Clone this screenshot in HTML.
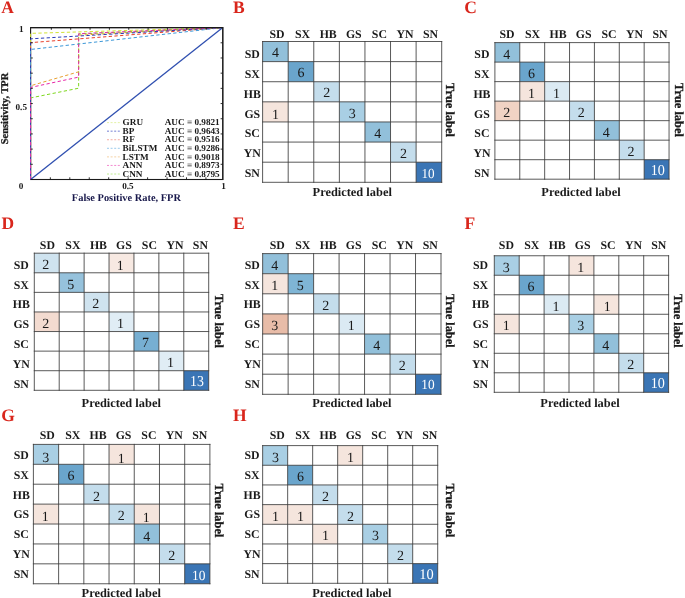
<!DOCTYPE html>
<html><head><meta charset="utf-8"><title>Figure</title>
<style>html,body{margin:0;padding:0;background:#fff;}body{width:685px;height:598px;overflow:hidden;font-family:"Liberation Serif", serif;}svg{display:block;text-rendering:geometricPrecision;will-change:transform;font-family:"Liberation Serif", serif;}</style></head><body>
<svg width="685" height="598" viewBox="0 0 685 598">
<rect width="685" height="598" fill="#ffffff"/>
<g>
<text x="1.2" y="12.8" font-size="17.5" font-weight="bold" fill="#d9261c">A</text>
<rect x="30.6" y="27.6" width="192.20000000000002" height="151.9" fill="none" stroke="#1a1a1a" stroke-width="1.1"/>
<path d="M30.60 179.50L30.60 33.37L222.80 27.60" stroke="#d2e234" stroke-width="1.0" fill="none" stroke-dasharray="3.3 2.4" stroke-dashoffset="0.0"/>
<path d="M30.60 179.50L30.60 42.64L222.80 27.60" stroke="#e8402a" stroke-width="1.0" fill="none" stroke-dasharray="3.3 2.4" stroke-dashoffset="1.4"/>
<path d="M30.60 179.50L30.60 85.78L78.65 71.80L78.65 35.19L222.80 27.60" stroke="#e8a030" stroke-width="1.0" fill="none" stroke-dasharray="3.3 2.4" stroke-dashoffset="1.4"/>
<path d="M30.60 179.50L30.60 97.93L78.65 88.21L78.65 33.98L222.80 27.60" stroke="#7ed81e" stroke-width="1.0" fill="none" stroke-dasharray="3.3 2.4" stroke-dashoffset="4.3"/>
<path d="M30.60 179.50L30.60 38.84L222.80 27.60" stroke="#2a3cb8" stroke-width="1.0" fill="none" stroke-dasharray="3.3 2.4" stroke-dashoffset="2.9"/>
<path d="M30.60 179.50L30.60 49.47L222.80 27.60" stroke="#3c98d8" stroke-width="1.0" fill="none" stroke-dasharray="3.3 2.4" stroke-dashoffset="0.0"/>
<path d="M30.60 179.50L30.60 87.45L78.65 77.12L78.65 33.68L222.80 27.60" stroke="#e828a8" stroke-width="1.0" fill="none" stroke-dasharray="3.3 2.4" stroke-dashoffset="0.0"/>
<path d="M30.60 179.50L222.80 27.60" stroke="#2f4fb0" stroke-width="1.3" fill="none"/>
<path d="M30.6 27.6H222.8V179.5H30.6" fill="none" stroke="#1a1a1a" stroke-width="1.1"/>
<path d="M50.35 179.5v-2.2M51.35 27.6v2.2M30.6 42.79h2.2M222.8 42.79h-2.2M69.80 179.5v-2.2M70.70 27.6v2.2M30.6 57.98h2.2M222.8 57.98h-2.2M89.25 179.5v-2.2M90.05 27.6v2.2M30.6 73.17h2.2M222.8 73.17h-2.2M108.70 179.5v-2.2M109.40 27.6v2.2M30.6 88.36h2.2M222.8 88.36h-2.2M128.15 179.5v-2.2M128.75 27.6v2.2M30.6 103.55h2.2M222.8 103.55h-2.2M147.60 179.5v-2.2M148.10 27.6v2.2M30.6 118.74h2.2M222.8 118.74h-2.2M167.05 179.5v-2.2M167.45 27.6v2.2M30.6 133.93h2.2M222.8 133.93h-2.2M186.50 179.5v-2.2M186.80 27.6v2.2M30.6 149.12h2.2M222.8 149.12h-2.2M205.95 179.5v-2.2M206.15 27.6v2.2M30.6 164.31h2.2M222.8 164.31h-2.2" stroke="#1a1a1a" stroke-width="0.9" fill="none"/>
<text x="21" y="188.9" font-size="9.2" font-weight="bold" text-anchor="middle" fill="#1a1a1a">0</text>
<text x="127.90" y="188.9" font-size="9.2" font-weight="bold" text-anchor="middle" fill="#1a1a1a">0.5</text>
<text x="223.6" y="188.9" font-size="9.2" font-weight="bold" text-anchor="middle" fill="#1a1a1a">1</text>
<text x="21.2" y="32.0" font-size="9.2" font-weight="bold" text-anchor="middle" fill="#1a1a1a">1</text>
<text x="27" y="109.5" font-size="9.2" font-weight="bold" text-anchor="end" fill="#1a1a1a">0.5</text>
<text x="126.4" y="201.2" font-size="10.4" font-weight="bold" text-anchor="middle" fill="#17174a">False Positive Rate, FPR</text>
<text transform="translate(7.6 108.5) rotate(-90)" font-size="10.4" font-weight="bold" text-anchor="middle" fill="#1a1a1a" stroke="#1a1a1a" stroke-width="0.3">Sensitivity, TPR</text>
<path d="M107 122.60H120" stroke="#d8ec80" stroke-width="0.7" stroke-dasharray="2 1.6" fill="none"/>
<text x="122.6" y="125.30" font-size="9.2" font-weight="bold" fill="#1a1a1a">GRU</text>
<text x="164.7" y="125.30" font-size="9.2" font-weight="bold" fill="#1a1a1a">AUC = 0.9821</text>
<path d="M107 131.17H120" stroke="#3848c0" stroke-width="0.7" stroke-dasharray="2 1.6" fill="none"/>
<text x="122.6" y="133.87" font-size="9.2" font-weight="bold" fill="#1a1a1a">BP</text>
<text x="164.7" y="133.87" font-size="9.2" font-weight="bold" fill="#1a1a1a">AUC = 0.9643</text>
<path d="M107 139.74H120" stroke="#f08878" stroke-width="0.7" stroke-dasharray="2 1.6" fill="none"/>
<text x="122.6" y="142.44" font-size="9.2" font-weight="bold" fill="#1a1a1a">RF</text>
<text x="164.7" y="142.44" font-size="9.2" font-weight="bold" fill="#1a1a1a">AUC = 0.9516</text>
<path d="M107 148.31H120" stroke="#70b4e4" stroke-width="0.7" stroke-dasharray="2 1.6" fill="none"/>
<text x="122.6" y="151.01" font-size="9.2" font-weight="bold" fill="#1a1a1a">BiLSTM</text>
<text x="164.7" y="151.01" font-size="9.2" font-weight="bold" fill="#1a1a1a">AUC = 0.9286</text>
<path d="M107 156.88H120" stroke="#f0c080" stroke-width="0.7" stroke-dasharray="2 1.6" fill="none"/>
<text x="122.6" y="159.58" font-size="9.2" font-weight="bold" fill="#1a1a1a">LSTM</text>
<text x="164.7" y="159.58" font-size="9.2" font-weight="bold" fill="#1a1a1a">AUC = 0.9018</text>
<path d="M107 165.45H120" stroke="#ee58bc" stroke-width="0.7" stroke-dasharray="2 1.6" fill="none"/>
<text x="122.6" y="168.15" font-size="9.2" font-weight="bold" fill="#1a1a1a">ANN</text>
<text x="164.7" y="168.15" font-size="9.2" font-weight="bold" fill="#1a1a1a">AUC = 0.8973</text>
<path d="M107 174.02H120" stroke="#a4e464" stroke-width="0.7" stroke-dasharray="2 1.6" fill="none"/>
<text x="122.6" y="176.72" font-size="9.2" font-weight="bold" fill="#1a1a1a">CNN</text>
<text x="164.7" y="176.72" font-size="9.2" font-weight="bold" fill="#1a1a1a">AUC = 0.8795</text>
</g>
<g>
<text x="233.0" y="12.8" font-size="17.5" font-weight="bold" fill="#d9261c">B</text>
<rect x="262.60" y="41.50" width="25.59" height="20.11" fill="#92c0da"/>
<rect x="288.19" y="61.61" width="25.59" height="20.11" fill="#6aa5cc"/>
<rect x="313.77" y="81.73" width="25.59" height="20.11" fill="#c4ddec"/>
<rect x="262.60" y="101.84" width="25.59" height="20.11" fill="#f5e5dd"/>
<rect x="339.36" y="101.84" width="25.59" height="20.11" fill="#a9cfe4"/>
<rect x="364.94" y="121.96" width="25.59" height="20.11" fill="#92c0da"/>
<rect x="390.53" y="142.07" width="25.59" height="20.11" fill="#c4ddec"/>
<rect x="416.11" y="162.19" width="25.59" height="20.11" fill="#3a75b5"/>
<path d="M262.60 41.50V182.30M262.60 41.50H441.70M288.19 41.50V182.30M262.60 61.61H441.70M313.77 41.50V182.30M262.60 81.73H441.70M339.36 41.50V182.30M262.60 101.84H441.70M364.94 41.50V182.30M262.60 121.96H441.70M390.53 41.50V182.30M262.60 142.07H441.70M416.11 41.50V182.30M262.60 162.19H441.70M441.70 41.50V182.30M262.60 182.30H441.70" stroke="#3c3c3c" stroke-width="0.85" fill="none" stroke-linecap="square"/>
<text x="275.49" y="57.19" font-size="14.0" text-anchor="middle" fill="#1a1a1a">4</text>
<text x="301.08" y="77.30" font-size="14.0" text-anchor="middle" fill="#1a1a1a">6</text>
<text x="326.66" y="97.42" font-size="14.0" text-anchor="middle" fill="#1a1a1a">2</text>
<text x="275.49" y="118.93" font-size="14.0" text-anchor="middle" fill="#1a1a1a">1</text>
<text x="352.25" y="117.53" font-size="14.0" text-anchor="middle" fill="#1a1a1a">3</text>
<text x="377.84" y="137.65" font-size="14.0" text-anchor="middle" fill="#1a1a1a">4</text>
<text x="403.42" y="157.76" font-size="14.0" text-anchor="middle" fill="#1a1a1a">2</text>
<text transform="translate(427.95 177.61) scale(0.95 1)" font-size="13.8" text-anchor="middle" fill="#ffffff">10</text>
<text x="277.00" y="37.8" font-size="11.8" font-weight="bold" text-anchor="middle" fill="#1a1a1a">SD</text>
<text x="302.60" y="37.8" font-size="11.8" font-weight="bold" text-anchor="middle" fill="#1a1a1a">SX</text>
<text x="328.20" y="37.8" font-size="11.8" font-weight="bold" text-anchor="middle" fill="#1a1a1a">HB</text>
<text x="353.80" y="37.8" font-size="11.8" font-weight="bold" text-anchor="middle" fill="#1a1a1a">GS</text>
<text x="379.40" y="37.8" font-size="11.8" font-weight="bold" text-anchor="middle" fill="#1a1a1a">SC</text>
<text x="405.00" y="37.8" font-size="11.8" font-weight="bold" text-anchor="middle" fill="#1a1a1a">YN</text>
<text x="430.60" y="37.8" font-size="11.8" font-weight="bold" text-anchor="middle" fill="#1a1a1a">SN</text>
<text x="252.30" y="58.00" font-size="11.8" font-weight="bold" text-anchor="middle" fill="#1a1a1a">SD</text>
<text x="252.30" y="77.87" font-size="11.8" font-weight="bold" text-anchor="middle" fill="#1a1a1a">SX</text>
<text x="252.30" y="97.74" font-size="11.8" font-weight="bold" text-anchor="middle" fill="#1a1a1a">HB</text>
<text x="252.30" y="117.61" font-size="11.8" font-weight="bold" text-anchor="middle" fill="#1a1a1a">GS</text>
<text x="252.30" y="137.48" font-size="11.8" font-weight="bold" text-anchor="middle" fill="#1a1a1a">SC</text>
<text x="252.30" y="157.35" font-size="11.8" font-weight="bold" text-anchor="middle" fill="#1a1a1a">YN</text>
<text x="252.30" y="177.22" font-size="11.8" font-weight="bold" text-anchor="middle" fill="#1a1a1a">SN</text>
<text x="352.2" y="196.0" font-size="12.4" font-weight="bold" text-anchor="middle" fill="#1a1a1a">Predicted label</text>
<text transform="translate(445.5 110.0) rotate(90)" font-size="12.4" font-weight="bold" text-anchor="middle" fill="#1a1a1a" stroke="#1a1a1a" stroke-width="0.3">True label</text>
</g>
<g>
<text x="464.3" y="12.8" font-size="17.5" font-weight="bold" fill="#d9261c">C</text>
<rect x="494.90" y="42.60" width="24.88" height="19.51" fill="#92c0da"/>
<rect x="519.78" y="62.11" width="24.88" height="19.51" fill="#6aa5cc"/>
<rect x="519.78" y="81.63" width="24.88" height="19.51" fill="#f5e5dd"/>
<rect x="544.66" y="81.63" width="24.88" height="19.51" fill="#dbeaf3"/>
<rect x="494.90" y="101.14" width="24.88" height="19.51" fill="#f1d3c4"/>
<rect x="569.54" y="101.14" width="24.88" height="19.51" fill="#c4ddec"/>
<rect x="594.41" y="120.66" width="24.88" height="19.51" fill="#92c0da"/>
<rect x="619.29" y="140.17" width="24.88" height="19.51" fill="#c4ddec"/>
<rect x="644.17" y="159.69" width="24.88" height="19.51" fill="#3a75b5"/>
<path d="M494.90 42.60V179.20M494.90 42.60H669.05M519.78 42.60V179.20M494.90 62.11H669.05M544.66 42.60V179.20M494.90 81.63H669.05M569.54 42.60V179.20M494.90 101.14H669.05M594.41 42.60V179.20M494.90 120.66H669.05M619.29 42.60V179.20M494.90 140.17H669.05M644.17 42.60V179.20M494.90 159.69H669.05M669.05 42.60V179.20M494.90 179.20H669.05" stroke="#3c3c3c" stroke-width="0.85" fill="none" stroke-linecap="square"/>
<text x="506.64" y="58.69" font-size="14.0" text-anchor="middle" fill="#1a1a1a">4</text>
<text x="531.52" y="78.20" font-size="14.0" text-anchor="middle" fill="#1a1a1a">6</text>
<text x="531.52" y="97.72" font-size="14.0" text-anchor="middle" fill="#1a1a1a">1</text>
<text x="556.40" y="97.72" font-size="14.0" text-anchor="middle" fill="#1a1a1a">1</text>
<text x="506.64" y="117.23" font-size="14.0" text-anchor="middle" fill="#1a1a1a">2</text>
<text x="581.27" y="117.23" font-size="14.0" text-anchor="middle" fill="#1a1a1a">2</text>
<text x="606.15" y="136.75" font-size="14.0" text-anchor="middle" fill="#1a1a1a">4</text>
<text x="631.03" y="156.26" font-size="14.0" text-anchor="middle" fill="#1a1a1a">2</text>
<text transform="translate(657.76 175.34) scale(0.93 1)" font-size="15.2" text-anchor="middle" fill="#ffffff">10</text>
<text x="507.10" y="37.8" font-size="11.8" font-weight="bold" text-anchor="middle" fill="#1a1a1a">SD</text>
<text x="532.60" y="37.8" font-size="11.8" font-weight="bold" text-anchor="middle" fill="#1a1a1a">SX</text>
<text x="558.10" y="37.8" font-size="11.8" font-weight="bold" text-anchor="middle" fill="#1a1a1a">HB</text>
<text x="583.60" y="37.8" font-size="11.8" font-weight="bold" text-anchor="middle" fill="#1a1a1a">GS</text>
<text x="609.10" y="37.8" font-size="11.8" font-weight="bold" text-anchor="middle" fill="#1a1a1a">SC</text>
<text x="634.60" y="37.8" font-size="11.8" font-weight="bold" text-anchor="middle" fill="#1a1a1a">YN</text>
<text x="660.10" y="37.8" font-size="11.8" font-weight="bold" text-anchor="middle" fill="#1a1a1a">SN</text>
<text x="481.90" y="58.00" font-size="11.8" font-weight="bold" text-anchor="middle" fill="#1a1a1a">SD</text>
<text x="481.90" y="77.87" font-size="11.8" font-weight="bold" text-anchor="middle" fill="#1a1a1a">SX</text>
<text x="481.90" y="97.74" font-size="11.8" font-weight="bold" text-anchor="middle" fill="#1a1a1a">HB</text>
<text x="481.90" y="117.61" font-size="11.8" font-weight="bold" text-anchor="middle" fill="#1a1a1a">GS</text>
<text x="481.90" y="137.48" font-size="11.8" font-weight="bold" text-anchor="middle" fill="#1a1a1a">SC</text>
<text x="481.90" y="157.35" font-size="11.8" font-weight="bold" text-anchor="middle" fill="#1a1a1a">YN</text>
<text x="481.90" y="177.22" font-size="11.8" font-weight="bold" text-anchor="middle" fill="#1a1a1a">SN</text>
<text x="581.0" y="196.0" font-size="12.4" font-weight="bold" text-anchor="middle" fill="#1a1a1a">Predicted label</text>
<text transform="translate(675.2 110.0) rotate(90)" font-size="12.4" font-weight="bold" text-anchor="middle" fill="#1a1a1a" stroke="#1a1a1a" stroke-width="0.3">True label</text>
</g>
<g>
<text x="1.5" y="229.1" font-size="17.5" font-weight="bold" fill="#d9261c">D</text>
<rect x="34.30" y="253.20" width="24.91" height="19.59" fill="#cfe3ef"/>
<rect x="109.04" y="253.20" width="24.91" height="19.59" fill="#f7e9e2"/>
<rect x="59.21" y="272.79" width="24.91" height="19.59" fill="#96c2dc"/>
<rect x="84.13" y="292.37" width="24.91" height="19.59" fill="#cfe3ef"/>
<rect x="34.30" y="311.96" width="24.91" height="19.59" fill="#f3dbd0"/>
<rect x="109.04" y="311.96" width="24.91" height="19.59" fill="#e0edf5"/>
<rect x="133.96" y="331.54" width="24.91" height="19.59" fill="#77afd2"/>
<rect x="158.87" y="351.13" width="24.91" height="19.59" fill="#e0edf5"/>
<rect x="183.79" y="370.71" width="24.91" height="19.59" fill="#3a75b5"/>
<path d="M34.30 253.20V390.30M34.30 253.20H208.70M59.21 253.20V390.30M34.30 272.79H208.70M84.13 253.20V390.30M34.30 292.37H208.70M109.04 253.20V390.30M34.30 311.96H208.70M133.96 253.20V390.30M34.30 331.54H208.70M158.87 253.20V390.30M34.30 351.13H208.70M183.79 253.20V390.30M34.30 370.71H208.70M208.70 253.20V390.30M34.30 390.30H208.70" stroke="#3c3c3c" stroke-width="0.85" fill="none" stroke-linecap="square"/>
<text x="45.86" y="269.02" font-size="14.0" text-anchor="middle" fill="#1a1a1a">2</text>
<text x="120.20" y="269.92" font-size="14.0" text-anchor="middle" fill="#1a1a1a">1</text>
<text x="70.77" y="288.61" font-size="14.0" text-anchor="middle" fill="#1a1a1a">5</text>
<text x="95.69" y="308.20" font-size="14.0" text-anchor="middle" fill="#1a1a1a">2</text>
<text x="45.86" y="327.78" font-size="14.0" text-anchor="middle" fill="#1a1a1a">2</text>
<text x="120.60" y="327.78" font-size="14.0" text-anchor="middle" fill="#1a1a1a">1</text>
<text x="145.51" y="347.37" font-size="14.0" text-anchor="middle" fill="#1a1a1a">7</text>
<text x="170.43" y="366.95" font-size="14.0" text-anchor="middle" fill="#1a1a1a">1</text>
<text transform="translate(196.95 385.64) scale(0.91 1)" font-size="15.2" text-anchor="middle" fill="#ffffff">13</text>
<text x="47.40" y="248.7" font-size="11.8" font-weight="bold" text-anchor="middle" fill="#1a1a1a">SD</text>
<text x="72.90" y="248.7" font-size="11.8" font-weight="bold" text-anchor="middle" fill="#1a1a1a">SX</text>
<text x="98.40" y="248.7" font-size="11.8" font-weight="bold" text-anchor="middle" fill="#1a1a1a">HB</text>
<text x="123.90" y="248.7" font-size="11.8" font-weight="bold" text-anchor="middle" fill="#1a1a1a">GS</text>
<text x="149.40" y="248.7" font-size="11.8" font-weight="bold" text-anchor="middle" fill="#1a1a1a">SC</text>
<text x="174.90" y="248.7" font-size="11.8" font-weight="bold" text-anchor="middle" fill="#1a1a1a">YN</text>
<text x="200.40" y="248.7" font-size="11.8" font-weight="bold" text-anchor="middle" fill="#1a1a1a">SN</text>
<text x="21.30" y="268.80" font-size="11.8" font-weight="bold" text-anchor="middle" fill="#1a1a1a">SD</text>
<text x="21.30" y="288.60" font-size="11.8" font-weight="bold" text-anchor="middle" fill="#1a1a1a">SX</text>
<text x="21.30" y="308.40" font-size="11.8" font-weight="bold" text-anchor="middle" fill="#1a1a1a">HB</text>
<text x="21.30" y="328.20" font-size="11.8" font-weight="bold" text-anchor="middle" fill="#1a1a1a">GS</text>
<text x="21.30" y="348.00" font-size="11.8" font-weight="bold" text-anchor="middle" fill="#1a1a1a">SC</text>
<text x="21.30" y="367.80" font-size="11.8" font-weight="bold" text-anchor="middle" fill="#1a1a1a">YN</text>
<text x="21.30" y="387.60" font-size="11.8" font-weight="bold" text-anchor="middle" fill="#1a1a1a">SN</text>
<text x="121.2" y="406.6" font-size="12.4" font-weight="bold" text-anchor="middle" fill="#1a1a1a">Predicted label</text>
<text transform="translate(214.8 321.0) rotate(90)" font-size="12.4" font-weight="bold" text-anchor="middle" fill="#1a1a1a" stroke="#1a1a1a" stroke-width="0.3">True label</text>
</g>
<g>
<text x="233.0" y="229.1" font-size="17.5" font-weight="bold" fill="#d9261c">E</text>
<rect x="262.65" y="253.60" width="25.48" height="20.10" fill="#92c0da"/>
<rect x="262.65" y="273.70" width="25.48" height="20.10" fill="#f5e5dd"/>
<rect x="288.13" y="273.70" width="25.48" height="20.10" fill="#7fb5d5"/>
<rect x="313.61" y="293.80" width="25.48" height="20.10" fill="#c4ddec"/>
<rect x="262.65" y="313.90" width="25.48" height="20.10" fill="#e8bca8"/>
<rect x="339.09" y="313.90" width="25.48" height="20.10" fill="#dbeaf3"/>
<rect x="364.56" y="334.00" width="25.48" height="20.10" fill="#92c0da"/>
<rect x="390.04" y="354.10" width="25.48" height="20.10" fill="#c4ddec"/>
<rect x="415.52" y="374.20" width="25.48" height="20.10" fill="#3a75b5"/>
<path d="M262.65 253.60V394.30M262.65 253.60H441.00M288.13 253.60V394.30M262.65 273.70H441.00M313.61 253.60V394.30M262.65 293.80H441.00M339.09 253.60V394.30M262.65 313.90H441.00M364.56 253.60V394.30M262.65 334.00H441.00M390.04 253.60V394.30M262.65 354.10H441.00M415.52 253.60V394.30M262.65 374.20H441.00M441.00 253.60V394.30M262.65 394.30H441.00" stroke="#3c3c3c" stroke-width="0.85" fill="none" stroke-linecap="square"/>
<text x="274.79" y="269.88" font-size="14.0" text-anchor="middle" fill="#1a1a1a">4</text>
<text x="274.79" y="289.98" font-size="14.0" text-anchor="middle" fill="#1a1a1a">1</text>
<text x="300.27" y="289.98" font-size="14.0" text-anchor="middle" fill="#1a1a1a">5</text>
<text x="325.75" y="310.08" font-size="14.0" text-anchor="middle" fill="#1a1a1a">2</text>
<text x="274.79" y="330.18" font-size="14.0" text-anchor="middle" fill="#1a1a1a">3</text>
<text x="351.22" y="330.18" font-size="14.0" text-anchor="middle" fill="#1a1a1a">1</text>
<text x="376.70" y="350.28" font-size="14.0" text-anchor="middle" fill="#1a1a1a">4</text>
<text x="402.18" y="370.38" font-size="14.0" text-anchor="middle" fill="#1a1a1a">2</text>
<text transform="translate(428.00 389.46) scale(0.95 1)" font-size="14.0" text-anchor="middle" fill="#ffffff">10</text>
<text x="277.20" y="248.7" font-size="11.8" font-weight="bold" text-anchor="middle" fill="#1a1a1a">SD</text>
<text x="302.70" y="248.7" font-size="11.8" font-weight="bold" text-anchor="middle" fill="#1a1a1a">SX</text>
<text x="328.20" y="248.7" font-size="11.8" font-weight="bold" text-anchor="middle" fill="#1a1a1a">HB</text>
<text x="353.70" y="248.7" font-size="11.8" font-weight="bold" text-anchor="middle" fill="#1a1a1a">GS</text>
<text x="379.20" y="248.7" font-size="11.8" font-weight="bold" text-anchor="middle" fill="#1a1a1a">SC</text>
<text x="404.70" y="248.7" font-size="11.8" font-weight="bold" text-anchor="middle" fill="#1a1a1a">YN</text>
<text x="430.20" y="248.7" font-size="11.8" font-weight="bold" text-anchor="middle" fill="#1a1a1a">SN</text>
<text x="252.20" y="268.80" font-size="11.8" font-weight="bold" text-anchor="middle" fill="#1a1a1a">SD</text>
<text x="252.20" y="288.60" font-size="11.8" font-weight="bold" text-anchor="middle" fill="#1a1a1a">SX</text>
<text x="252.20" y="308.40" font-size="11.8" font-weight="bold" text-anchor="middle" fill="#1a1a1a">HB</text>
<text x="252.20" y="328.20" font-size="11.8" font-weight="bold" text-anchor="middle" fill="#1a1a1a">GS</text>
<text x="252.20" y="348.00" font-size="11.8" font-weight="bold" text-anchor="middle" fill="#1a1a1a">SC</text>
<text x="252.20" y="367.80" font-size="11.8" font-weight="bold" text-anchor="middle" fill="#1a1a1a">YN</text>
<text x="252.20" y="387.60" font-size="11.8" font-weight="bold" text-anchor="middle" fill="#1a1a1a">SN</text>
<text x="351.8" y="406.9" font-size="12.4" font-weight="bold" text-anchor="middle" fill="#1a1a1a">Predicted label</text>
<text transform="translate(445.5 320.8) rotate(90)" font-size="12.4" font-weight="bold" text-anchor="middle" fill="#1a1a1a" stroke="#1a1a1a" stroke-width="0.3">True label</text>
</g>
<g>
<text x="464.5" y="229.1" font-size="17.5" font-weight="bold" fill="#d9261c">F</text>
<rect x="494.30" y="255.75" width="24.90" height="19.51" fill="#a9cfe4"/>
<rect x="569.00" y="255.75" width="24.90" height="19.51" fill="#f5e5dd"/>
<rect x="519.20" y="275.26" width="24.90" height="19.51" fill="#6aa5cc"/>
<rect x="544.10" y="294.76" width="24.90" height="19.51" fill="#dbeaf3"/>
<rect x="593.90" y="294.76" width="24.90" height="19.51" fill="#f5e5dd"/>
<rect x="494.30" y="314.27" width="24.90" height="19.51" fill="#f5e5dd"/>
<rect x="569.00" y="314.27" width="24.90" height="19.51" fill="#a9cfe4"/>
<rect x="593.90" y="333.78" width="24.90" height="19.51" fill="#92c0da"/>
<rect x="618.80" y="353.29" width="24.90" height="19.51" fill="#c4ddec"/>
<rect x="643.70" y="372.79" width="24.90" height="19.51" fill="#3a75b5"/>
<path d="M494.30 255.75V392.30M494.30 255.75H668.60M519.20 255.75V392.30M494.30 275.26H668.60M544.10 255.75V392.30M494.30 294.76H668.60M569.00 255.75V392.30M494.30 314.27H668.60M593.90 255.75V392.30M494.30 333.78H668.60M618.80 255.75V392.30M494.30 353.29H668.60M643.70 255.75V392.30M494.30 372.79H668.60M668.60 255.75V392.30M494.30 392.30H668.60" stroke="#3c3c3c" stroke-width="0.85" fill="none" stroke-linecap="square"/>
<text x="506.15" y="271.64" font-size="14.0" text-anchor="middle" fill="#1a1a1a">3</text>
<text x="580.85" y="271.64" font-size="14.0" text-anchor="middle" fill="#1a1a1a">1</text>
<text x="531.05" y="291.14" font-size="14.0" text-anchor="middle" fill="#1a1a1a">6</text>
<text x="555.95" y="310.65" font-size="14.0" text-anchor="middle" fill="#1a1a1a">1</text>
<text x="607.35" y="310.55" font-size="14.0" text-anchor="middle" fill="#1a1a1a">1</text>
<text x="506.15" y="330.16" font-size="14.0" text-anchor="middle" fill="#1a1a1a">1</text>
<text x="580.85" y="330.16" font-size="14.0" text-anchor="middle" fill="#1a1a1a">3</text>
<text x="605.75" y="349.66" font-size="14.0" text-anchor="middle" fill="#1a1a1a">4</text>
<text x="630.65" y="369.17" font-size="14.0" text-anchor="middle" fill="#1a1a1a">2</text>
<text transform="translate(657.76 388.11) scale(0.93 1)" font-size="15.2" text-anchor="middle" fill="#ffffff">10</text>
<text x="506.40" y="248.7" font-size="11.8" font-weight="bold" text-anchor="middle" fill="#1a1a1a">SD</text>
<text x="531.80" y="248.7" font-size="11.8" font-weight="bold" text-anchor="middle" fill="#1a1a1a">SX</text>
<text x="557.20" y="248.7" font-size="11.8" font-weight="bold" text-anchor="middle" fill="#1a1a1a">HB</text>
<text x="582.60" y="248.7" font-size="11.8" font-weight="bold" text-anchor="middle" fill="#1a1a1a">GS</text>
<text x="608.00" y="248.7" font-size="11.8" font-weight="bold" text-anchor="middle" fill="#1a1a1a">SC</text>
<text x="633.40" y="248.7" font-size="11.8" font-weight="bold" text-anchor="middle" fill="#1a1a1a">YN</text>
<text x="658.80" y="248.7" font-size="11.8" font-weight="bold" text-anchor="middle" fill="#1a1a1a">SN</text>
<text x="480.60" y="268.80" font-size="11.8" font-weight="bold" text-anchor="middle" fill="#1a1a1a">SD</text>
<text x="480.60" y="288.60" font-size="11.8" font-weight="bold" text-anchor="middle" fill="#1a1a1a">SX</text>
<text x="480.60" y="308.40" font-size="11.8" font-weight="bold" text-anchor="middle" fill="#1a1a1a">HB</text>
<text x="480.60" y="328.20" font-size="11.8" font-weight="bold" text-anchor="middle" fill="#1a1a1a">GS</text>
<text x="480.60" y="348.00" font-size="11.8" font-weight="bold" text-anchor="middle" fill="#1a1a1a">SC</text>
<text x="480.60" y="367.80" font-size="11.8" font-weight="bold" text-anchor="middle" fill="#1a1a1a">YN</text>
<text x="480.60" y="387.60" font-size="11.8" font-weight="bold" text-anchor="middle" fill="#1a1a1a">SN</text>
<text x="580.0" y="406.5" font-size="12.4" font-weight="bold" text-anchor="middle" fill="#1a1a1a">Predicted label</text>
<text transform="translate(673.9 320.8) rotate(90)" font-size="12.4" font-weight="bold" text-anchor="middle" fill="#1a1a1a" stroke="#1a1a1a" stroke-width="0.3">True label</text>
</g>
<g>
<text x="1.3" y="421.4" font-size="17.5" font-weight="bold" fill="#d9261c">G</text>
<rect x="33.40" y="444.40" width="25.21" height="19.91" fill="#a9cfe4"/>
<rect x="109.04" y="444.40" width="25.21" height="19.91" fill="#f5e5dd"/>
<rect x="58.61" y="464.31" width="25.21" height="19.91" fill="#6aa5cc"/>
<rect x="83.83" y="484.21" width="25.21" height="19.91" fill="#c4ddec"/>
<rect x="33.40" y="504.12" width="25.21" height="19.91" fill="#f5e5dd"/>
<rect x="109.04" y="504.12" width="25.21" height="19.91" fill="#c4ddec"/>
<rect x="134.26" y="504.12" width="25.21" height="19.91" fill="#f5e5dd"/>
<rect x="134.26" y="524.03" width="25.21" height="19.91" fill="#92c0da"/>
<rect x="159.47" y="543.94" width="25.21" height="19.91" fill="#c4ddec"/>
<rect x="184.69" y="563.84" width="25.21" height="19.91" fill="#3a75b5"/>
<path d="M33.40 444.40V583.75M33.40 444.40H209.90M58.61 444.40V583.75M33.40 464.31H209.90M83.83 444.40V583.75M33.40 484.21H209.90M109.04 444.40V583.75M33.40 504.12H209.90M134.26 444.40V583.75M33.40 524.03H209.90M159.47 444.40V583.75M33.40 543.94H209.90M184.69 444.40V583.75M33.40 563.84H209.90M209.90 444.40V583.75M33.40 583.75H209.90" stroke="#3c3c3c" stroke-width="0.85" fill="none" stroke-linecap="square"/>
<text x="45.71" y="461.69" font-size="14.0" text-anchor="middle" fill="#1a1a1a">3</text>
<text x="121.35" y="462.69" font-size="14.0" text-anchor="middle" fill="#1a1a1a">1</text>
<text x="70.92" y="480.29" font-size="14.0" text-anchor="middle" fill="#1a1a1a">6</text>
<text x="96.44" y="501.20" font-size="14.0" text-anchor="middle" fill="#1a1a1a">2</text>
<text x="45.31" y="520.81" font-size="14.0" text-anchor="middle" fill="#1a1a1a">1</text>
<text x="121.35" y="519.51" font-size="14.0" text-anchor="middle" fill="#1a1a1a">2</text>
<text x="146.16" y="522.41" font-size="14.0" text-anchor="middle" fill="#1a1a1a">1</text>
<text x="146.66" y="540.91" font-size="14.0" text-anchor="middle" fill="#1a1a1a">4</text>
<text x="171.78" y="560.22" font-size="14.0" text-anchor="middle" fill="#1a1a1a">2</text>
<text transform="translate(198.80 579.81) scale(0.96 1)" font-size="14.0" text-anchor="middle" fill="#ffffff">10</text>
<text x="47.30" y="438.7" font-size="11.8" font-weight="bold" text-anchor="middle" fill="#1a1a1a">SD</text>
<text x="72.70" y="438.7" font-size="11.8" font-weight="bold" text-anchor="middle" fill="#1a1a1a">SX</text>
<text x="98.10" y="438.7" font-size="11.8" font-weight="bold" text-anchor="middle" fill="#1a1a1a">HB</text>
<text x="123.50" y="438.7" font-size="11.8" font-weight="bold" text-anchor="middle" fill="#1a1a1a">GS</text>
<text x="148.90" y="438.7" font-size="11.8" font-weight="bold" text-anchor="middle" fill="#1a1a1a">SC</text>
<text x="174.30" y="438.7" font-size="11.8" font-weight="bold" text-anchor="middle" fill="#1a1a1a">YN</text>
<text x="199.70" y="438.7" font-size="11.8" font-weight="bold" text-anchor="middle" fill="#1a1a1a">SN</text>
<text x="21.30" y="459.00" font-size="11.8" font-weight="bold" text-anchor="middle" fill="#1a1a1a">SD</text>
<text x="21.30" y="478.80" font-size="11.8" font-weight="bold" text-anchor="middle" fill="#1a1a1a">SX</text>
<text x="21.30" y="498.60" font-size="11.8" font-weight="bold" text-anchor="middle" fill="#1a1a1a">HB</text>
<text x="21.30" y="518.40" font-size="11.8" font-weight="bold" text-anchor="middle" fill="#1a1a1a">GS</text>
<text x="21.30" y="538.20" font-size="11.8" font-weight="bold" text-anchor="middle" fill="#1a1a1a">SC</text>
<text x="21.30" y="558.00" font-size="11.8" font-weight="bold" text-anchor="middle" fill="#1a1a1a">YN</text>
<text x="21.30" y="577.80" font-size="11.8" font-weight="bold" text-anchor="middle" fill="#1a1a1a">SN</text>
<text x="121.2" y="596.9" font-size="12.4" font-weight="bold" text-anchor="middle" fill="#1a1a1a">Predicted label</text>
<text transform="translate(214.8 510.5) rotate(90)" font-size="12.4" font-weight="bold" text-anchor="middle" fill="#1a1a1a" stroke="#1a1a1a" stroke-width="0.3">True label</text>
</g>
<g>
<text x="233.0" y="421.4" font-size="17.5" font-weight="bold" fill="#d9261c">H</text>
<rect x="262.65" y="445.60" width="25.01" height="19.67" fill="#a9cfe4"/>
<rect x="337.67" y="445.60" width="25.01" height="19.67" fill="#f5e5dd"/>
<rect x="287.66" y="465.27" width="25.01" height="19.67" fill="#6aa5cc"/>
<rect x="312.66" y="484.94" width="25.01" height="19.67" fill="#c4ddec"/>
<rect x="262.65" y="504.61" width="25.01" height="19.67" fill="#f5e5dd"/>
<rect x="287.66" y="504.61" width="25.01" height="19.67" fill="#f5e5dd"/>
<rect x="337.67" y="504.61" width="25.01" height="19.67" fill="#c4ddec"/>
<rect x="312.66" y="524.29" width="25.01" height="19.67" fill="#f5e5dd"/>
<rect x="362.68" y="524.29" width="25.01" height="19.67" fill="#a9cfe4"/>
<rect x="387.69" y="543.96" width="25.01" height="19.67" fill="#c4ddec"/>
<rect x="412.69" y="563.63" width="25.01" height="19.67" fill="#3a75b5"/>
<path d="M262.65 445.60V583.30M262.65 445.60H437.70M287.66 445.60V583.30M262.65 465.27H437.70M312.66 445.60V583.30M262.65 484.94H437.70M337.67 445.60V583.30M262.65 504.61H437.70M362.68 445.60V583.30M262.65 524.29H437.70M387.69 445.60V583.30M262.65 543.96H437.70M412.69 445.60V583.30M262.65 563.63H437.70M437.70 445.60V583.30M262.65 583.30H437.70" stroke="#3c3c3c" stroke-width="0.85" fill="none" stroke-linecap="square"/>
<text x="275.45" y="461.62" font-size="14.0" text-anchor="middle" fill="#1a1a1a">3</text>
<text x="350.47" y="461.62" font-size="14.0" text-anchor="middle" fill="#1a1a1a">1</text>
<text x="300.46" y="481.29" font-size="14.0" text-anchor="middle" fill="#1a1a1a">6</text>
<text x="325.47" y="500.96" font-size="14.0" text-anchor="middle" fill="#1a1a1a">2</text>
<text x="275.45" y="520.63" font-size="14.0" text-anchor="middle" fill="#1a1a1a">1</text>
<text x="300.46" y="520.63" font-size="14.0" text-anchor="middle" fill="#1a1a1a">1</text>
<text x="350.47" y="520.63" font-size="14.0" text-anchor="middle" fill="#1a1a1a">2</text>
<text x="325.47" y="540.30" font-size="14.0" text-anchor="middle" fill="#1a1a1a">1</text>
<text x="375.48" y="540.30" font-size="14.0" text-anchor="middle" fill="#1a1a1a">3</text>
<text x="400.49" y="559.97" font-size="14.0" text-anchor="middle" fill="#1a1a1a">2</text>
<text transform="translate(426.47 578.54) scale(0.98 1)" font-size="14.7" text-anchor="middle" fill="#ffffff">10</text>
<text x="277.30" y="438.7" font-size="11.8" font-weight="bold" text-anchor="middle" fill="#1a1a1a">SD</text>
<text x="302.70" y="438.7" font-size="11.8" font-weight="bold" text-anchor="middle" fill="#1a1a1a">SX</text>
<text x="328.10" y="438.7" font-size="11.8" font-weight="bold" text-anchor="middle" fill="#1a1a1a">HB</text>
<text x="353.50" y="438.7" font-size="11.8" font-weight="bold" text-anchor="middle" fill="#1a1a1a">GS</text>
<text x="378.90" y="438.7" font-size="11.8" font-weight="bold" text-anchor="middle" fill="#1a1a1a">SC</text>
<text x="404.30" y="438.7" font-size="11.8" font-weight="bold" text-anchor="middle" fill="#1a1a1a">YN</text>
<text x="429.70" y="438.7" font-size="11.8" font-weight="bold" text-anchor="middle" fill="#1a1a1a">SN</text>
<text x="252.10" y="459.00" font-size="11.8" font-weight="bold" text-anchor="middle" fill="#1a1a1a">SD</text>
<text x="252.10" y="478.80" font-size="11.8" font-weight="bold" text-anchor="middle" fill="#1a1a1a">SX</text>
<text x="252.10" y="498.60" font-size="11.8" font-weight="bold" text-anchor="middle" fill="#1a1a1a">HB</text>
<text x="252.10" y="518.40" font-size="11.8" font-weight="bold" text-anchor="middle" fill="#1a1a1a">GS</text>
<text x="252.10" y="538.20" font-size="11.8" font-weight="bold" text-anchor="middle" fill="#1a1a1a">SC</text>
<text x="252.10" y="558.00" font-size="11.8" font-weight="bold" text-anchor="middle" fill="#1a1a1a">YN</text>
<text x="252.10" y="577.80" font-size="11.8" font-weight="bold" text-anchor="middle" fill="#1a1a1a">SN</text>
<text x="351.8" y="596.9" font-size="12.4" font-weight="bold" text-anchor="middle" fill="#1a1a1a">Predicted label</text>
<text transform="translate(445.5 510.5) rotate(90)" font-size="12.4" font-weight="bold" text-anchor="middle" fill="#1a1a1a" stroke="#1a1a1a" stroke-width="0.3">True label</text>
</g>
</svg></body></html>
